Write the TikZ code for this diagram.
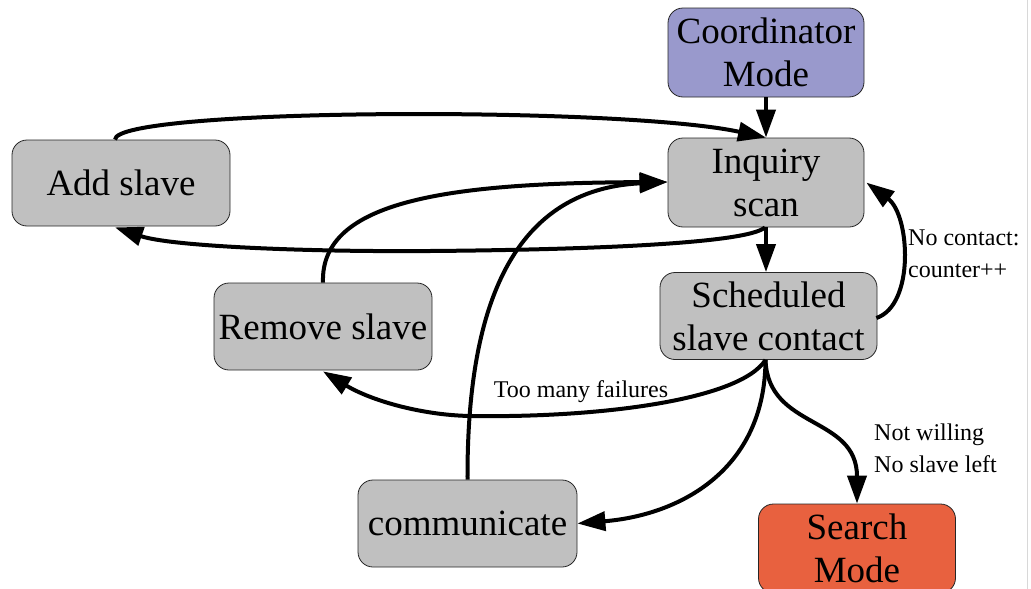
\documentclass[tikz,border=0pt]{standalone}
\usepackage{fontspec}
\setmainfont{Liberation Serif}
\usetikzlibrary{arrows.meta,calc}
\definecolor{boxgrey}{HTML}{C0C0C0}
\definecolor{coordblue}{HTML}{9999CC}
\definecolor{searchred}{HTML}{E8613F}
\definecolor{edgegrey}{HTML}{D8D8D8}
\begin{document}
\begin{tikzpicture}[x=1pt,y=-1pt,
  box/.style={draw=black!85, line width=0.8pt, rounded corners=15pt, inner sep=0pt,
    align=center, font=\fontsize{37}{43}\selectfont, fill=boxgrey},
  edge/.style={line width=4pt, -{Triangle[length=28pt,width=19pt]}},
  lbl/.style={font=\fontsize{24}{32}\selectfont, inner sep=0pt, anchor=west, align=left}]
\path[use as bounding box] (0,0) rectangle (1031,589);
\clip (0,0) rectangle (1031,589);
\fill[white] (0,0) rectangle (1031,589);
\draw[edgegrey, line width=1pt] (1027,0) -- (1027,589);

\node[box, minimum width=196pt, minimum height=89pt, fill=coordblue] (coord) at (766,52.5) {Coordinator\\Mode};
\node[box, minimum width=196pt, minimum height=89pt] (inq) at (766,182.5) {Inquiry\\scan};
\node[box, minimum width=218pt, minimum height=86pt] (add) at (121,183) {Add slave};
\node[box, minimum width=217pt, minimum height=87pt] (sched) at (768.5,316) {Scheduled\\slave contact};
\node[box, minimum width=218pt, minimum height=87pt] (rem) at (323,326.5) {Remove slave};
\node[box, minimum width=219pt, minimum height=87pt] (comm) at (467.5,523.5) {communicate};
\node[box, minimum width=197pt, minimum height=89pt, fill=searchred] (search) at (857,548.5) {Search\\Mode};

% edges
\draw[edge] (coord.south) -- (inq.north);
\draw[edge] ($(add.north)+(-6,0)$) .. controls (115,108) and (620,106) .. (inq.north);
\draw[edge] ($(inq.south)+(-1,0)$) .. controls (745,245) and (560,250) .. (430,251)
  .. controls (300,252) and (170,246) .. ($(add.south)+(-6,1)$);
\draw[edge] (rem.north) .. controls (320,200) and (450,183) .. ($(inq.west)+(0,-0.5)$);
\draw[edge] (comm.north) .. controls (467,330) and (500,190) .. ($(inq.west)+(0,-0.5)$);
\draw[edge] (inq.south) -- (inq.south |- sched.north);
\draw[edge] ($(sched.east)+(-1,2)$) .. controls (915,305) and (910,215) .. ($(inq.north east)+(2,45)$);
\draw[edge] ($(sched.south)+(-3,0)$) .. controls (740,400) and (600,418) .. (470,416)
  .. controls (420,415) and (370,400) .. ($(rem.south)+(0,1)$);
\draw[edge] ($(sched.south)+(-3,0)$) .. controls (765,470) and (680,515) .. (comm.east);
\draw[edge] ($(sched.south)+(-3,0)$) .. controls (768,430) and (857,415) .. (search.north);

% labels
\node[lbl] (lnc) at (908,254) {No contact:\\counter++};
\node[lbl, anchor=center] (ltm) at (581,392) {Too many failures};
\node[lbl] (lnw) at (874,448) {Not willing\\No slave left};
\end{tikzpicture}
\end{document}
